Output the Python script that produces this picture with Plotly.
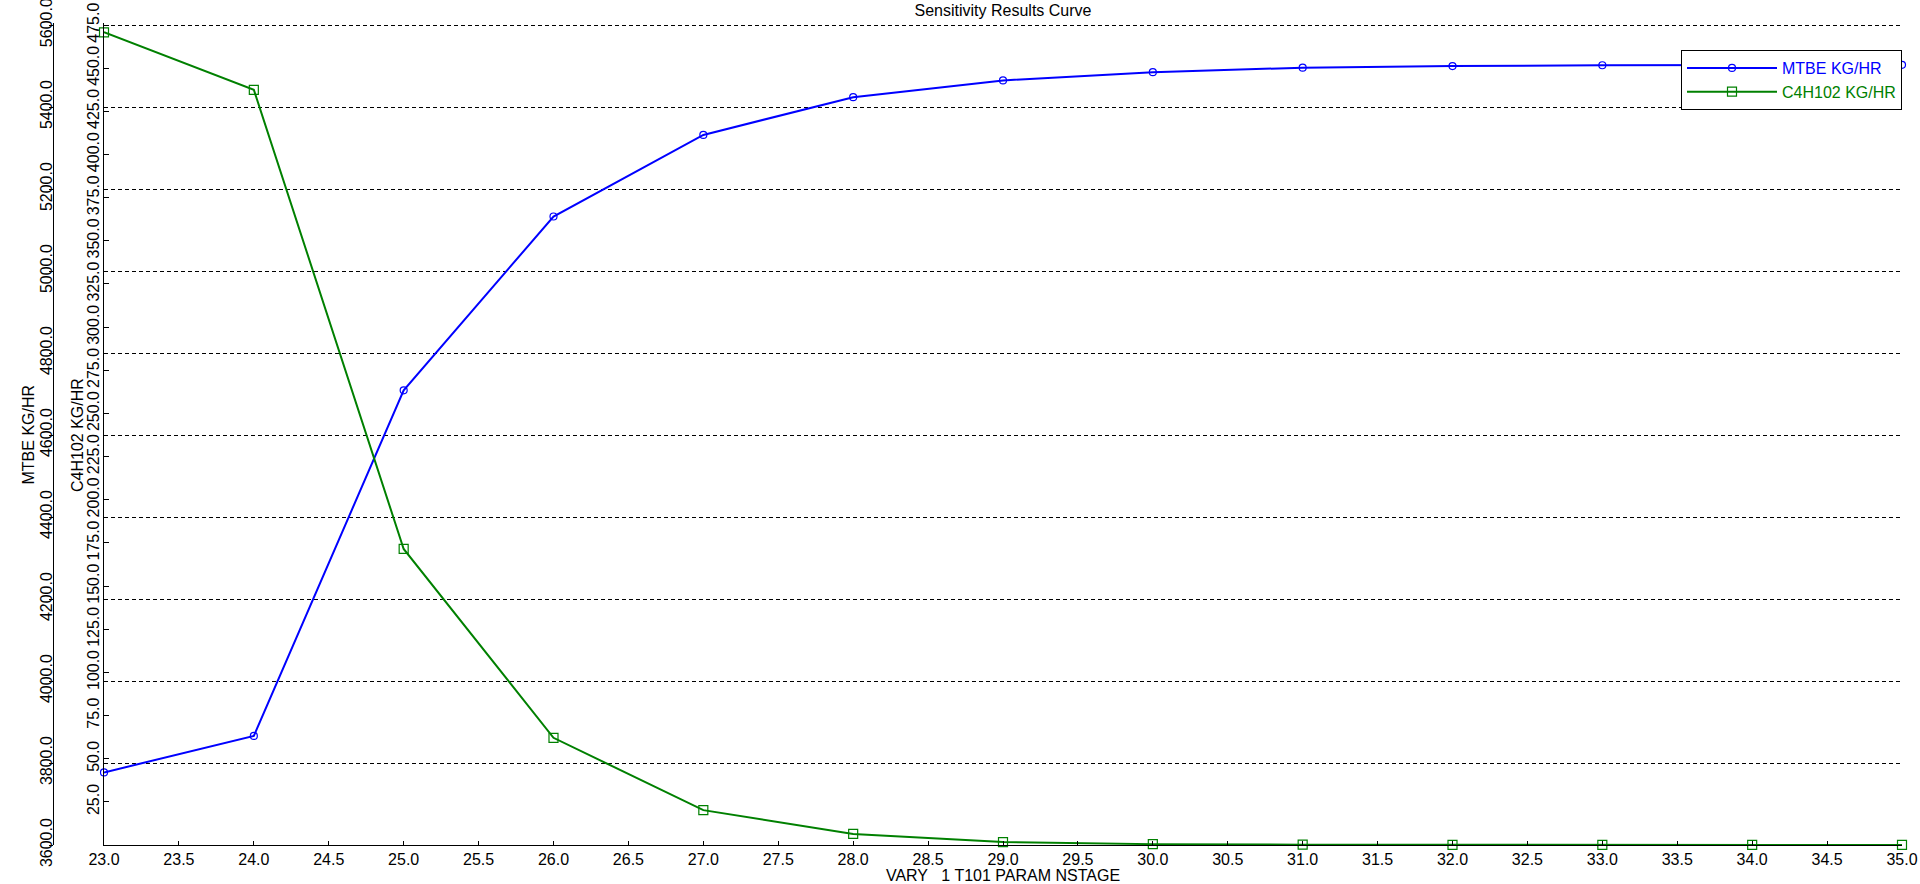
import plotly.graph_objects as go

# ---- data ----
stages = [23, 24, 25, 26, 27, 28, 29, 30, 31, 32, 33, 34, 35]
mtbe_kg_hr = [3777, 3866, 4709, 5133, 5332, 5424, 5465, 5485, 5496, 5500, 5502, 5503, 5503]
c4h102_kg_hr = [470.8, 437.5, 171.5, 62.1, 20.2, 6.4, 1.7, 0.5, 0.2, 0.1, 0.05, 0.03, 0.02]

mtbe_ticks = [3600, 3800, 4000, 4200, 4400, 4600, 4800, 5000, 5200, 5400, 5600]
c4_ticks = [25, 50, 75, 100, 125, 150, 175, 200, 225, 250, 275, 300, 325, 350,
            375, 400, 425, 450, 475]
x_ticks = [23.0, 23.5, 24.0, 24.5, 25.0, 25.5, 26.0, 26.5, 27.0, 27.5, 28.0, 28.5,
           29.0, 29.5, 30.0, 30.5, 31.0, 31.5, 32.0, 32.5, 33.0, 33.5, 34.0, 34.5, 35.0]

series_names = ["MTBE KG/HR", "C4H102 KG/HR"]
title_text = "Sensitivity Results Curve"
x_title = "VARY\u00a0\u00a0\u00a01 T101 PARAM NSTAGE"

FONT = "Liberation Sans, Arial, sans-serif"
BLUE = "#0000FF"
GREEN = "#008000"

W, H = 1920, 884
ML, MR, MT, MB = 0, 18, 23, 39
PW = W - ML - MR
PH = H - MT - MB
x_left_px = 104
mtbe_axis_px = 53

# small headroom above the top tick so its gridline is drawn (2 px)
mtbe_lo, mtbe_hi = 3600, 5605
c4_hi = 475 * (mtbe_hi - mtbe_lo) / 2000.0

fig = go.Figure()
fig.add_trace(go.Scatter(
    x=stages, y=mtbe_kg_hr, mode="lines+markers",
    name=f"<span style='color:{BLUE}'>{series_names[0]}</span>",
    line=dict(color=BLUE, width=2),
    marker=dict(symbol="circle-open", size=7, color=BLUE, line=dict(width=1.2)),
    cliponaxis=False, yaxis="y",
))
fig.add_trace(go.Scatter(
    x=stages, y=c4h102_kg_hr, mode="lines+markers",
    name=f"<span style='color:{GREEN}'>{series_names[1]}</span>",
    line=dict(color=GREEN, width=2),
    marker=dict(symbol="square-open", size=9, color=GREEN, line=dict(width=1.2)),
    cliponaxis=False, yaxis="y2",
))

fig.update_layout(
    width=W, height=H,
    margin=dict(l=ML, r=MR, t=MT, b=MB),
    paper_bgcolor="white", plot_bgcolor="white",
    font=dict(family=FONT, size=16, color="black"),
    title=dict(text=title_text, xref="container", yref="container",
               x=1003 / W, y=1 - 10 / H, xanchor="center", yanchor="middle",
               font=dict(size=16, color="black")),
    showlegend=True,
    legend=dict(x=1681 / PW, xanchor="left", y=(H - MB - 50) / PH, yanchor="top",
                bgcolor="white", bordercolor="black", borderwidth=1,
                font=dict(size=16), itemwidth=90, tracegroupgap=0),
    xaxis=dict(
        domain=[x_left_px / PW, 1.0], range=[23, 35],
        tickmode="array", tickvals=x_ticks, ticktext=[f"{v:.1f}" for v in x_ticks],
        ticks="inside", ticklen=4, tickcolor="black",
        showline=True, linecolor="black", linewidth=1,
        showgrid=False, zeroline=False, ticklabeloverflow="allow",
        title=dict(text=x_title, standoff=0, font=dict(size=16)),
        anchor="y", automargin=False,
    ),
    yaxis=dict(
        range=[mtbe_lo, mtbe_hi],
        tickmode="array", tickvals=mtbe_ticks, ticktext=[f"{v:.1f}" for v in mtbe_ticks],
        tickangle=-90, ticklabelstandoff=-9,
        ticks="outside", ticklen=4, tickcolor="black",
        showline=True, linecolor="black", linewidth=1,
        showgrid=True, gridcolor="black", gridwidth=1, griddash="4px,3px",
        zeroline=False, ticklabeloverflow="allow",
        anchor="free", position=mtbe_axis_px / PW, side="left",
        automargin=False,
    ),
    yaxis2=dict(
        range=[0, c4_hi],
        tickmode="array", tickvals=c4_ticks, ticktext=[f"{v:.1f}" for v in c4_ticks],
        tickangle=-90, ticklabelstandoff=-2,
        ticks="inside", ticklen=5, tickcolor="black",
        showline=True, linecolor="black", linewidth=1,
        showgrid=False, zeroline=False, ticklabeloverflow="allow",
        overlaying="y", anchor="x", side="left",
        automargin=False,
    ),
    annotations=[
        dict(text=series_names[0], xref="paper", yref="paper",
             x=27.5 / PW, y=(H - MB - 435) / PH, textangle=-90,
             xanchor="center", yanchor="middle", showarrow=False,
             font=dict(size=16, color="black")),
        dict(text=series_names[1], xref="paper", yref="paper",
             x=77 / PW, y=(H - MB - 435) / PH, textangle=-90,
             xanchor="center", yanchor="middle", showarrow=False,
             font=dict(size=16, color="black")),
    ],
)

fig.write_html(
    "out.html",
    config={"displayModeBar": False},
    post_script="document.body.style.margin='0px';document.body.style.overflow='hidden';",
)
